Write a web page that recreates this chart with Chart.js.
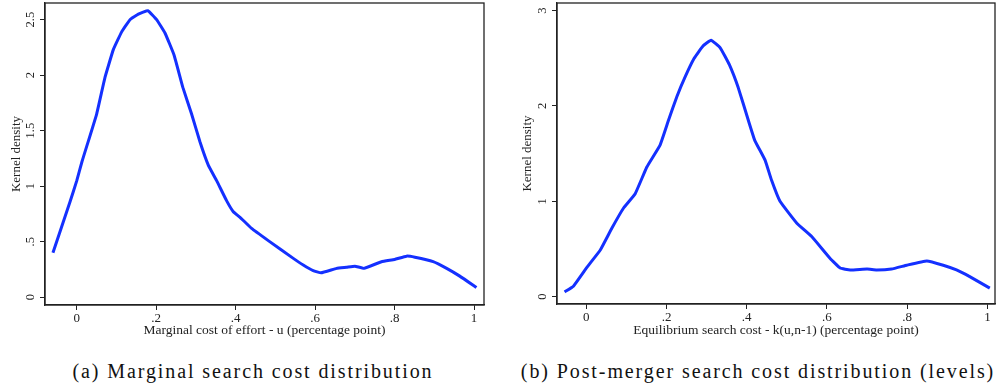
<!DOCTYPE html>
<html>
<head>
<meta charset="utf-8">
<script src="https://cdn.jsdelivr.net/npm/chart.js@4/dist/chart.umd.min.js"></script>
<style>
  body { margin: 0; background: #fff; width: 998px; height: 391px; position: relative; overflow: hidden; }
  .panel { position: absolute; top: 0; width: 499px; height: 340px; }
  .caption { position: absolute; top: 360px; font-family: 'Liberation Serif', serif; font-size: 20px; letter-spacing: 1.9px; color: #111; white-space: nowrap; transform: translateX(-50%); }
</style>
</head>
<body>
<div class="panel" style="left:0"><canvas id="chartA" width="499" height="340"></canvas></div>
<div class="panel" style="left:499px"><canvas id="chartB" width="499" height="340"></canvas></div>
<div class="caption" style="left:253px">(a) Marginal search cost distribution</div>
<div class="caption" style="left:758px">(b) Post-merger search cost distribution (levels)</div>
<script>
'use strict';

// panel (a): marginal cost of effort
let xA = [-0.06, -0.017, 0.0, 0.013, 0.05, 0.071, 0.092, 0.113, 0.134, 0.155, 0.179, 0.201, 0.222, 0.245, 0.267, 0.289, 0.31, 0.331, 0.352, 0.377, 0.394, 0.411, 0.44, 0.482, 0.545, 0.57, 0.595, 0.615, 0.654, 0.679, 0.70, 0.723, 0.767, 0.80, 0.83, 0.851, 0.897, 0.931, 0.964, 1.006];
let yA = [0.40, 0.86, 1.05, 1.22, 1.65, 1.98, 2.23, 2.39, 2.50, 2.55, 2.58, 2.50, 2.38, 2.18, 1.89, 1.65, 1.40, 1.19, 1.05, 0.87, 0.77, 0.72, 0.62, 0.51, 0.35, 0.29, 0.24, 0.22, 0.26, 0.27, 0.28, 0.26, 0.32, 0.34, 0.37, 0.36, 0.32, 0.26, 0.19, 0.087];

// panel (b): equilibrium search cost
let xB = [-0.054, -0.032, 0.002, 0.035, 0.064, 0.093, 0.122, 0.151, 0.184, 0.205, 0.226, 0.247, 0.269, 0.291, 0.311, 0.334, 0.357, 0.379, 0.404, 0.42, 0.446, 0.462, 0.483, 0.525, 0.562, 0.608, 0.633, 0.658, 0.70, 0.724, 0.761, 0.799, 0.849, 0.89, 0.923, 0.956, 1.006];
let yB = [0.05, 0.11, 0.31, 0.49, 0.72, 0.93, 1.08, 1.36, 1.59, 1.85, 2.10, 2.31, 2.50, 2.63, 2.69, 2.61, 2.43, 2.19, 1.85, 1.64, 1.43, 1.22, 1.00, 0.77, 0.63, 0.40, 0.30, 0.28, 0.29, 0.28, 0.29, 0.33, 0.375, 0.33, 0.28, 0.21, 0.09];

// ticks
let xTicks = [0, 0.2, 0.4, 0.6, 0.8, 1];
let xTickLabels = ['0', '.2', '.4', '.6', '.8', '1'];
let yTicksA = [0, 0.5, 1, 1.5, 2, 2.5];
let yTickLabelsA = ['0', '.5', '1', '1.5', '2', '2.5'];
let yTicksB = [0, 1, 2, 3];
let yTickLabelsB = ['0', '1', '2', '3'];

let titleXA = 'Marginal cost of effort - u (percentage point)';
let titleXB = 'Equilibrium search cost - k(u,n-1) (percentage point)';
let titleY = 'Kernel density';

let serif = "'Liberation Serif', serif";
let ink = '#222';

// frame round the plot + rotated y labels and title
let stataPlugin = {
    id: 'stata',
    afterDraw(chart, args, opts) {
        let ctx = chart.ctx;
        let a = chart.chartArea;
        ctx.save();
        ctx.strokeStyle = ink;
        ctx.lineWidth = 1.3;
        ctx.strokeRect(a.left, a.top, a.right - a.left, a.bottom - a.top);
        let y = chart.scales.y;
        ctx.fillStyle = ink;
        ctx.font = '12.5px ' + serif;
        ctx.textAlign = 'center';
        ctx.textBaseline = 'alphabetic';
        opts.ticks.forEach((v, i) => {
            ctx.save();
            ctx.translate(opts.labelX, y.getPixelForValue(v));
            ctx.rotate(-Math.PI / 2);
            ctx.fillText(opts.labels[i], 0, 0);
            ctx.restore();
        });
        ctx.font = '13px ' + serif;
        ctx.save();
        ctx.translate(opts.titleX, (a.top + a.bottom) / 2);
        ctx.rotate(-Math.PI / 2);
        ctx.textBaseline = 'middle';
        ctx.fillText(titleY, 0, 0);
        ctx.restore();
        ctx.restore();
    }
};

function makeChart(id, xs, ys, cfg) {
    let points = xs.map((x, i) => ({ x: x, y: ys[i] }));
    let ctx = document.getElementById(id).getContext('2d');
    return new Chart(ctx, {
        type: 'line',
        data: {
            datasets: [{
                data: points,
                borderColor: '#1430ff',
                borderWidth: 3,
                pointRadius: 0,
                tension: 0.1,
                fill: false
            }]
        },
        options: {
            responsive: false,
            animation: false,
            layout: { padding: { top: 3, right: cfg.padRight, left: 0, bottom: 0 } },
            plugins: {
                legend: { display: false },
                tooltip: { enabled: false },
                stata: { ticks: cfg.yTicks, labels: cfg.yLabels, labelX: cfg.labelX, titleX: cfg.titleX }
            },
            scales: {
                x: {
                    type: 'linear',
                    min: cfg.xMin,
                    max: cfg.xMax,
                    afterBuildTicks: s => { s.ticks = xTicks.map(v => ({ value: v })); },
                    afterFit: s => { s.height = cfg.xHeight; },
                    ticks: {
                        color: ink,
                        font: { family: serif, size: 13 },
                        padding: 1,
                        maxRotation: 0,
                        callback: (v) => xTickLabels[xTicks.indexOf(v)]
                    },
                    grid: { drawOnChartArea: false, drawTicks: true, tickLength: 5, color: ink },
                    border: { display: true, color: ink, width: 1.3 },
                    title: {
                        display: true,
                        text: cfg.xTitle,
                        color: ink,
                        font: { family: serif, size: 13.5 },
                        padding: { top: 0, bottom: 1 }
                    }
                },
                y: {
                    type: 'linear',
                    min: cfg.yMin,
                    max: cfg.yMax,
                    afterBuildTicks: s => { s.ticks = cfg.yTicks.map(v => ({ value: v })); },
                    afterFit: s => { s.width = cfg.yWidth; },
                    ticks: { display: false },
                    grid: { drawOnChartArea: false, drawTicks: true, tickLength: 5, color: ink },
                    border: { display: true, color: ink, width: 1.3 }
                }
            }
        },
        plugins: [stataPlugin]
    });
}

makeChart('chartA', xA, yA, {
    xMin: -0.08, xMax: 1.025, yMin: -0.07, yMax: 2.65,
    yTicks: yTicksA, yLabels: yTickLabelsA,
    xTitle: titleXA, yWidth: 45, xHeight: 35, padRight: 15,
    labelX: 34, titleX: 17
});

makeChart('chartB', xB, yB, {
    xMin: -0.073, xMax: 1.019, yMin: -0.077, yMax: 3.08,
    yTicks: yTicksB, yLabels: yTickLabelsB,
    xTitle: titleXB, yWidth: 58, xHeight: 36, padRight: 3,
    labelX: 47, titleX: 29
});
</script>
</body>
</html>
